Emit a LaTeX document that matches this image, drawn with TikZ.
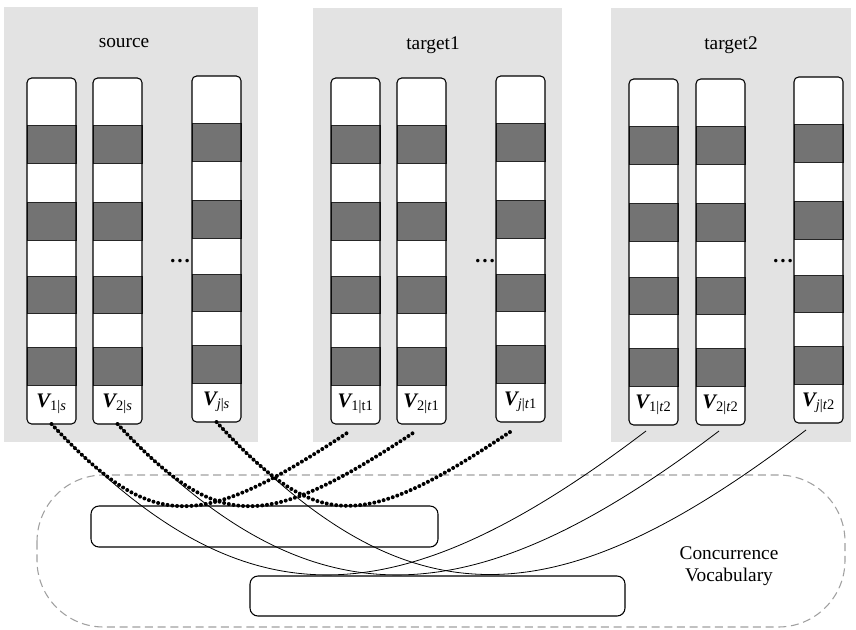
\documentclass[tikz,border=0pt]{standalone}
\usepackage{fontspec}
\setmainfont{Liberation Serif}

\definecolor{panelgray}{RGB}{227,227,227}
\definecolor{cellgray}{RGB}{115,115,115}
\definecolor{dashgray}{RGB}{160,160,160}

\tikzset{every picture/.style={line width=0.75pt}}
\tikzset{
  colbox/.style={draw=black, line width=0.8pt, rounded corners=3.5pt},
  darkcell/.style={fill=cellgray, draw=black!85, line width=0.6pt},
  vlabel/.style={font=\fontsize{15.5}{17}\selectfont},
  paneltitle/.style={font=\fontsize{14.5}{17}\selectfont},
  dotlink/.style={line width=3pt, dash pattern=on 0pt off 3.6pt, line cap=round},
  solidlink/.style={line width=0.6pt},
  vocabbox/.style={draw=black, line width=0.8pt, rounded corners=6pt},
  vocabarea/.style={draw=dashgray, line width=0.8pt, dash pattern=on 6pt off 3.5pt, rounded corners=50pt}
}

% one vocabulary column: name, left x, top y, label
\newcommand{\vcol}[4]{%
  \begin{scope}[shift={(#2,#3)}]
    \fill[white, rounded corners=3.5pt] (0,0) rectangle (49,346);
    \foreach \a/\b in {47/85,124/162,198/235,269/307}
      \draw[darkcell] (0,\a) rectangle (49,\b);
    \draw[colbox] (0,0) rectangle (49,346);
    \node[vlabel] (#1) at (24.5,326) {#4};
    \coordinate (#1b) at (24.5,346);
  \end{scope}}

\newcommand{\bV}{{\bfseries\itshape V}}

\begin{document}
\begin{tikzpicture}[x=0.75pt,y=0.75pt,yscale=-1,xscale=1]
	\useasboundingbox (0,0) rectangle (856,629);

	%Panels
	\fill[panelgray] (4,7) rectangle (258,442);
	\fill[panelgray] (313,8) rectangle (562,442);
	\fill[panelgray] (611,8) rectangle (851,442);

	% Panel titles
	\node[paneltitle] (srctitle) at (124,43) {source};
	\node[paneltitle] (tonetitle) at (433,45) {target1};
	\node[paneltitle] (ttwotitle) at (731,45) {target2};

	%Columns
	\vcol{s1}{27}{78}{\bV\textsubscript{1|\textit{s}}}
	\vcol{s2}{93}{78}{\bV\textsubscript{2|\textit{s}}}
	\vcol{s3}{192}{76}{\bV\textsubscript{\textit{j}|\textit{s}}}
	\vcol{ta1}{331}{78}{\bV\textsubscript{1|t1}}
	\vcol{ta2}{397}{78}{\bV\textsubscript{2|\textit{t}1}}
	\vcol{ta3}{496}{76}{\bV\textsubscript{\textit{j}|\textit{t}1}}
	\vcol{tb1}{629}{79}{\bV\textsubscript{1|\textit{t}2}}
	\vcol{tb2}{696}{79}{\bV\textsubscript{2|\textit{t}2}}
	\vcol{tb3}{794}{77}{\bV\textsubscript{\textit{j}|\textit{t}2}}

	% Dots
	\node[font=\fontsize{16}{16}\selectfont\bfseries] (sdots) at (180,261) {\dots};
	\node[font=\fontsize{16}{16}\selectfont\bfseries] (tadots) at (485,261) {\dots};
	\node[font=\fontsize{16}{16}\selectfont\bfseries] (tbdots) at (783,261) {\dots};

	%Concurrence vocabulary
	\draw[vocabarea] (37,475) rectangle (845,627);
	\draw[vocabbox] (91,506) rectangle (438,547);
	\draw[vocabbox] (250,576) rectangle (625,616);
	\node[font=\fontsize{14.5}{16.5}\selectfont, align=center] (vocab) at (729,566) {Concurrence\\Vocabulary};

	% Link ends below the target columns
	\coordinate (ta1e) at (347,433);
	\coordinate (ta2e) at (413,433);
	\coordinate (ta3e) at (510,432);
	\coordinate (tb1e) at (646,431);
	\coordinate (tb2e) at (719,431);
	\coordinate (tb3e) at (806,430);

	%Links source -> target2
	\draw[solidlink] (s1b) .. controls (241,624) and (392,624) .. (tb1e);
	\draw[solidlink] (s2b) .. controls (308,624) and (465,624) .. (tb2e);
	\draw[solidlink] (s3b) .. controls (406,624) and (552,624) .. (tb3e);

	%Links source -> target1
	\draw[dotlink] (s1b) .. controls (152,532) and (197,532) .. (ta1e);
	\draw[dotlink] (s2b) .. controls (218,532) and (263,532) .. (ta2e);
	\draw[dotlink] (s3b) .. controls (317,532) and (360,532) .. (ta3e);

\end{tikzpicture}
\end{document}
